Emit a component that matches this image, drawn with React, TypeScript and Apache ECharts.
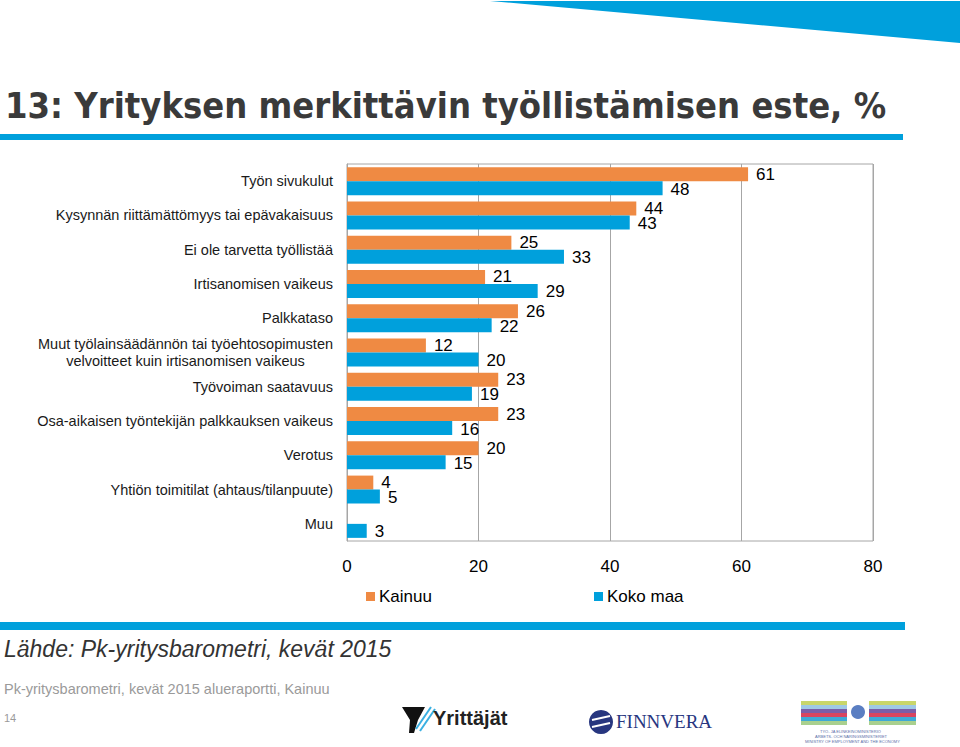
import React, { useEffect, useRef } from "react";
import * as echarts from "echarts";

const categories = [
  "Työn sivukulut",
  "Kysynnän riittämättömyys tai epävakaisuus",
  "Ei ole tarvetta työllistää",
  "Irtisanomisen vaikeus",
  "Palkkataso",
  "Muut työlainsäädännön tai työehtosopimusten\nvelvoitteet kuin irtisanomisen vaikeus",
  "Työvoiman saatavuus",
  "Osa-aikaisen työntekijän palkkauksen vaikeus",
  "Verotus",
  "Yhtiön toimitilat (ahtaus/tilanpuute)",
  "Muu",
];
const kainuu: (number | null)[] = [61, 44, 25, 21, 26, 12, 23, 23, 20, 4, null];
const kokoMaa: number[] = [48, 43, 33, 29, 22, 20, 19, 16, 15, 5, 3];
const xTicks = { min: 0, max: 80, interval: 20 };
const seriesNames = ["Kainuu", "Koko maa"];

const ORANGE = "#EF8A43";
const BLUE = "#00A0DC";
const FONT = "Liberation Sans, Arial, sans-serif";

export default function App() {
  const ref = useRef<HTMLDivElement>(null);
  useEffect(() => {
    if (!ref.current) return;
    const chart = echarts.init(ref.current, null, { renderer: "svg" });
    const labelStyle = {
      show: true,
      position: "right" as const,
      distance: 8,
      fontSize: 17,
      color: "#000",
      fontFamily: FONT,
    };
    const legendText = { fontSize: 17, color: "#000", fontFamily: FONT, padding: [0, 0, 0, -1] };
    chart.setOption({
      animation: false,
      backgroundColor: "#fff",
      grid: {
        left: 347,
        top: 164,
        width: 526,
        height: 377,
        show: true,
        borderColor: "#A6A6A6",
        borderWidth: 1,
        containLabel: false,
      },
      legend: [
        {
          data: [seriesNames[0]],
          left: 361,
          top: 583,
          itemWidth: 9,
          itemHeight: 9,
          icon: "rect",
          textStyle: legendText,
        },
        {
          data: [seriesNames[1]],
          left: 589,
          top: 583,
          itemWidth: 9,
          itemHeight: 9,
          icon: "rect",
          textStyle: legendText,
        },
      ],
      xAxis: {
        type: "value",
        min: xTicks.min,
        max: xTicks.max,
        interval: xTicks.interval,
        axisLine: { show: false },
        axisTick: { show: false },
        splitLine: { show: true, lineStyle: { color: "#A6A6A6", width: 1 } },
        axisLabel: { fontSize: 17, color: "#000", margin: 17, fontFamily: FONT },
      },
      yAxis: {
        type: "category",
        inverse: true,
        data: categories,
        axisLine: { show: true, lineStyle: { color: "#A6A6A6" } },
        axisTick: { show: false },
        axisLabel: {
          fontSize: 14.5,
          color: "#1a1a1a",
          margin: 14,
          fontFamily: FONT,
          lineHeight: 17,
          formatter: (v: string) => {
            if (v.indexOf("\n") >= 0) {
              return v
                .split("\n")
                .map((s) => "{c|" + s + "}")
                .join("\n");
            }
            return v;
          },
          rich: {
            c: { align: "center", fontSize: 14.5, color: "#1a1a1a", fontFamily: FONT, lineHeight: 17 },
          },
        },
      },
      series: [
        {
          name: seriesNames[0],
          type: "bar",
          data: kainuu,
          barWidth: 14,
          barGap: "0%",
          itemStyle: { color: ORANGE },
          label: { ...labelStyle, offset: [0, 0] },
        },
        {
          name: seriesNames[1],
          type: "bar",
          data: kokoMaa,
          barWidth: 14,
          barGap: "0%",
          itemStyle: { color: BLUE },
          label: { ...labelStyle, offset: [0, 1] },
        },
      ],
      graphic: [
        { type: "polygon", shape: { points: [[490, 1], [960, 1], [960, 43]] }, style: { fill: BLUE } },
        {
          type: "text",
          left: 5,
          top: 87,
          style: {
            text: "13: Yrityksen merkittävin työllistämisen este, %",
            fontSize: 36,
            fontWeight: "bold",
            fontFamily: "DejaVu Sans Condensed, DejaVu Sans, sans-serif",
            fill: "#3a3a3a",
          },
        },
        { type: "rect", shape: { x: 0, y: 134, width: 903, height: 6 }, style: { fill: BLUE } },
        { type: "rect", shape: { x: 0, y: 622, width: 905, height: 8 }, style: { fill: BLUE } },
        {
          type: "text",
          left: 4,
          top: 637,
          style: {
            text: "Lähde: Pk-yritysbarometri, kevät 2015",
            fontSize: 23,
            fontStyle: "italic",
            fontFamily: FONT,
            fill: "#333",
          },
        },
        {
          type: "text",
          left: 4,
          top: 681,
          style: { text: "Pk-yritysbarometri, kevät 2015 alueraportti, Kainuu", fontSize: 14.5, fontFamily: FONT, fill: "#9a9a9a" },
        },
        {
          type: "text",
          left: 4,
          top: 712,
          style: { text: "14", fontSize: 11, fontFamily: FONT, fill: "#9a9a9a" },
        },
        // Yrittäjät logo
        {
          type: "polygon",
          shape: { points: [[402, 707], [425, 707], [418, 720], [414, 733], [409, 733], [410, 720]] },
          style: { fill: "#111" },
        },
        { type: "line", shape: { x1: 416, y1: 729, x2: 431, y2: 707 }, style: { stroke: "#3AB0E2", lineWidth: 2 } },
        { type: "line", shape: { x1: 420, y1: 731, x2: 435, y2: 709 }, style: { stroke: "#3AB0E2", lineWidth: 2 } },
        {
          type: "text",
          left: 433,
          top: 708,
          style: { text: "Yrittäjät", fontSize: 20, fontWeight: "bold", fontFamily: FONT, fill: "#222" },
        },
        // Finnvera logo
        { type: "circle", shape: { cx: 601, cy: 722, r: 12 }, style: { fill: "#27367F" } },
        { type: "line", shape: { x1: 592, y1: 720, x2: 610, y2: 716 }, style: { stroke: "#fff", lineWidth: 2 } },
        { type: "line", shape: { x1: 592, y1: 727, x2: 610, y2: 723 }, style: { stroke: "#fff", lineWidth: 2 } },
        {
          type: "text",
          left: 616,
          top: 712,
          style: { text: "FINNVERA", fontSize: 19, fontFamily: "Liberation Serif, DejaVu Serif, serif", fill: "#27367F" },
        },
        // Ministry logo
        { type: "rect", shape: { x: 801, y: 701, width: 115, height: 4 }, style: { fill: "#C9D66A" } },
        { type: "rect", shape: { x: 801, y: 705, width: 115, height: 4 }, style: { fill: "#9FC9E6" } },
        { type: "rect", shape: { x: 801, y: 709, width: 115, height: 4 }, style: { fill: "#7A5DA8" } },
        { type: "rect", shape: { x: 801, y: 713, width: 115, height: 4 }, style: { fill: "#D9455F" } },
        { type: "rect", shape: { x: 801, y: 717, width: 115, height: 4 }, style: { fill: "#3FA9D6" } },
        { type: "rect", shape: { x: 801, y: 721, width: 115, height: 4 }, style: { fill: "#A9D08E" } },
        { type: "rect", shape: { x: 847, y: 699, width: 22, height: 28 }, style: { fill: "#fff" } },
        { type: "circle", shape: { cx: 858, cy: 712, r: 7 }, style: { fill: "#5A7EC2" } },
        {
          type: "text",
          left: 820,
          top: 729,
          style: { text: "TYÖ- JA ELINKEINOMINISTERIÖ", fontSize: 4, fontFamily: FONT, fill: "#5A6EA8" },
        },
        {
          type: "text",
          left: 815,
          top: 734,
          style: { text: "ARBETS- OCH NÄRINGSMINISTERIET", fontSize: 4, fontFamily: FONT, fill: "#5A6EA8" },
        },
        {
          type: "text",
          left: 805,
          top: 739,
          style: { text: "MINISTRY OF EMPLOYMENT AND THE ECONOMY", fontSize: 4, fontFamily: FONT, fill: "#5A6EA8" },
        },
      ],
    });
    return () => chart.dispose();
  }, []);
  return <div ref={ref} style={{ position: "fixed", left: 0, top: 0, width: 960, height: 747, background: "#fff" }} />;
}
